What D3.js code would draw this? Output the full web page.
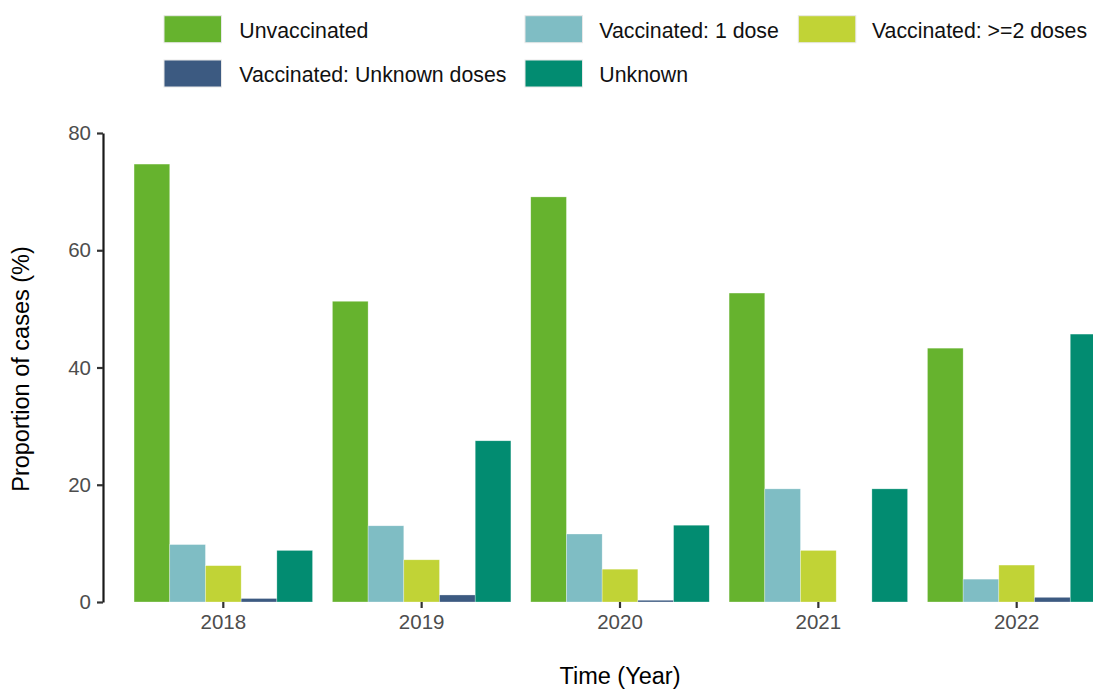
<!DOCTYPE html>
<html>
<head>
<meta charset="utf-8">
<script src="https://cdn.jsdelivr.net/npm/d3@7"></script>
<style>
  html, body { margin: 0; padding: 0; background: #fff; }
  svg { display: block; font-family: "Liberation Sans", Arial, sans-serif; }
</style>
</head>
<body>
<svg id="chart" width="1093" height="689"></svg>
<script>
const years = ["2018", "2019", "2020", "2021", "2022"];
const seriesNames = ["Unvaccinated", "Vaccinated: 1 dose", "Vaccinated: >=2 doses", "Vaccinated: Unknown doses", "Unknown"];
const seriesColors = ["#66b32e", "#7fbdc4", "#c1d336", "#3c5a81", "#028c71"];
const unvaccinated   = [74.7, 51.3, 69.1, 52.7, 43.3];
const oneDose        = [9.8, 13.0, 11.6, 19.3, 3.9];
const twoPlusDoses   = [6.2, 7.2, 5.6, 8.8, 6.3];
const unknownDoses   = [0.6, 1.2, 0.3, 0.0, 0.8];
const unknownStatus  = [8.8, 27.5, 13.1, 19.3, 45.7];
const yTicks = [0, 20, 40, 60, 80];

const seriesValues = [unvaccinated, oneDose, twoPlusDoses, unknownDoses, unknownStatus];
const rows = [];
years.forEach((yr, i) => {
  seriesNames.forEach((s, j) => rows.push({ year: yr, series: s, value: seriesValues[j][i] }));
});

const svg = d3.select("#chart");

const x = d3.scaleBand().domain(years).range([104.3, 1135.7]).paddingInner(0.1).paddingOuter(0.15);
const xInner = d3.scaleBand().domain(seriesNames).range([0, x.bandwidth()]).padding(0);
const y = d3.scaleLinear().domain([0, 80]).range([602, 133]);
const color = d3.scaleOrdinal().domain(seriesNames).range(seriesColors);

// bars
svg.append("g").selectAll("rect").data(rows).join("rect")
  .attr("x", d => x(d.year) + xInner(d.series))
  .attr("y", d => y(d.value))
  .attr("width", xInner.bandwidth())
  .attr("height", d => y(0) - y(d.value))
  .attr("fill", d => color(d.series))
  .attr("stroke", "#ffffff")
  .attr("stroke-opacity", 0.5)
  .attr("stroke-width", 0.6);

// y axis
const yAxis = svg.append("g").attr("transform", "translate(103,0)")
  .call(d3.axisLeft(y).tickValues(yTicks).tickSize(6).tickPadding(6).tickSizeOuter(0));
yAxis.select(".domain").attr("stroke", "#1a1a1a").attr("stroke-width", 2.2);
yAxis.selectAll(".tick line").attr("stroke", "#333").attr("stroke-width", 2.2);
yAxis.selectAll(".tick text").attr("fill", "#4d4d4d").attr("font-size", "20.5px")
  .attr("font-family", "Liberation Sans, Arial, sans-serif");

// x axis (ticks only)
const xAxis = svg.append("g").attr("transform", "translate(0,602)")
  .call(d3.axisBottom(x).tickSize(6).tickPadding(6).tickSizeOuter(0));
xAxis.select(".domain").remove();
xAxis.selectAll(".tick line").attr("stroke", "#333").attr("stroke-width", 2.2);
xAxis.selectAll(".tick text").attr("fill", "#4d4d4d").attr("font-size", "20.5px")
  .attr("font-family", "Liberation Sans, Arial, sans-serif");

// axis titles
svg.append("text").attr("x", 620).attr("y", 684).attr("text-anchor", "middle")
  .attr("font-size", "23.5px").attr("fill", "#000").text("Time (Year)");
svg.append("text").attr("transform", "translate(29,369) rotate(-90)").attr("text-anchor", "middle")
  .attr("font-size", "23.5px").attr("fill", "#000").text("Proportion of cases (%)");

// legend
const legendPos = [
  { kx: 164, ky: 15.7, tx: 239.3, ty: 37.7 },
  { kx: 525, ky: 15.7, tx: 599.3, ty: 37.7 },
  { kx: 798.3, ky: 15.7, tx: 872, ty: 37.7 },
  { kx: 164, ky: 60, tx: 239.3, ty: 82.3 },
  { kx: 525, ky: 60, tx: 599.3, ty: 82.3 }
];
const leg = svg.append("g");
seriesNames.forEach((s, i) => {
  const p = legendPos[i];
  leg.append("rect").attr("x", p.kx).attr("y", p.ky).attr("width", 57.5).attr("height", 27)
    .attr("fill", color(s)).attr("stroke", "#e8e8e8").attr("stroke-width", 1);
  leg.append("text").attr("x", p.tx).attr("y", p.ty).attr("font-size", "21.3px")
    .attr("fill", "#111").text(s);
});
</script>
</body>
</html>
